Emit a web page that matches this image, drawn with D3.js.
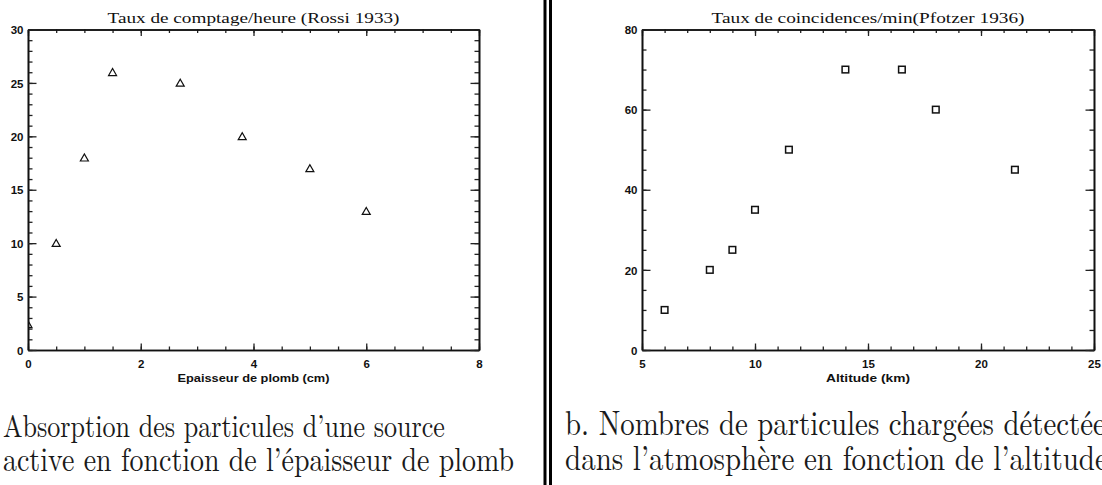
<!DOCTYPE html>
<html>
<head>
<meta charset="utf-8">
<script src="https://cdn.jsdelivr.net/npm/d3@7"></script>
<style>
  body { margin: 0; background: #fff; }
  svg { display: block; }
  .tick text { font-family: "Liberation Sans", Arial, sans-serif; font-weight: bold; font-size: 11.5px; fill: #111; }
</style>
</head>
<body>
<div id="chart"></div>
<script>
////////////////////////////////////////////////////////////////////////
// Data

// Rossi 1933: counts per hour vs lead thickness (cm)
const rossiThickness = [0, 0.5, 1, 1.5, 2.7, 3.8, 5, 6];
const rossiRate = [2.4, 10, 18, 26, 25, 20, 17, 13];
const rossiXTicks = [0, 2, 4, 6, 8];
const rossiYTicks = [0, 5, 10, 15, 20, 25, 30];

// Pfotzer 1936: coincidences per minute vs altitude (km)
const pfotzerAltitude = [6, 8, 9, 10, 11.5, 14, 16.5, 18, 21.5];
const pfotzerRate = [10, 20, 25, 35, 50, 70, 70, 60, 45];
const pfotzerXTicks = [5, 10, 15, 20, 25];
const pfotzerYTicks = [0, 20, 40, 60, 80];

const titles = ["Taux de comptage/heure (Rossi 1933)", "Taux de coincidences/min(Pfotzer 1936)"];
const xLabels = ["Epaisseur de plomb (cm)", "Altitude (km)"];

////////////////////////////////////////////////////////////////////////
// Layout

let width = 1102, height = 485;
let plotTop = 29.5, plotBottom = 350;

let svg = d3.select("#chart").append("svg")
  .attr("width", width)
  .attr("height", height);

svg.append("rect").attr("width", width).attr("height", height).attr("fill", "#fff");

// draws one framed IDL-style plot, returns the scales
function drawPlot(opt) {
  let x = d3.scaleLinear().domain(opt.xDomain).range([opt.left, opt.right]);
  let y = d3.scaleLinear().domain(opt.yDomain).range([plotBottom, plotTop]);
  let g = svg.append("g");

  let minorX = d3.range(opt.xDomain[0], opt.xDomain[1] + 1e-9, opt.xMinor);
  let minorY = d3.range(opt.yDomain[0], opt.yDomain[1] + 1e-9, opt.yMinor);

  // minor ticks first (no labels)
  g.append("g").attr("transform", "translate(0," + plotBottom + ")")
    .call(d3.axisTop(x).tickValues(minorX).tickSize(3.5).tickSizeOuter(0).tickFormat(""));
  g.append("g").attr("transform", "translate(0," + plotTop + ")")
    .call(d3.axisBottom(x).tickValues(minorX).tickSize(3.5).tickSizeOuter(0).tickFormat(""));
  g.append("g").attr("transform", "translate(" + opt.left + ",0)")
    .call(d3.axisRight(y).tickValues(minorY).tickSize(4.5).tickSizeOuter(0).tickFormat(""));
  g.append("g").attr("transform", "translate(" + opt.right + ",0)")
    .call(d3.axisLeft(y).tickValues(minorY).tickSize(4.5).tickSizeOuter(0).tickFormat(""));

  // major ticks, labels on bottom and left
  let xb = g.append("g").attr("class", "xaxis").attr("transform", "translate(0," + plotBottom + ")")
    .call(d3.axisTop(x).tickValues(opt.xTicks).tickSize(6.5).tickSizeOuter(0));
  xb.selectAll(".tick text").attr("y", 17.5).attr("dy", 0);

  g.append("g").attr("transform", "translate(0," + plotTop + ")")
    .call(d3.axisBottom(x).tickValues(opt.xTicks).tickSize(6.5).tickSizeOuter(0).tickFormat(""));

  let yl = g.append("g").attr("transform", "translate(" + opt.left + ",0)")
    .call(d3.axisRight(y).tickValues(opt.yTicks).tickSize(8.5).tickSizeOuter(0));
  yl.selectAll(".tick text").attr("x", -4.5).attr("dy", "0.36em").attr("text-anchor", "end");

  g.append("g").attr("transform", "translate(" + opt.right + ",0)")
    .call(d3.axisLeft(y).tickValues(opt.yTicks).tickSize(8.5).tickSizeOuter(0).tickFormat(""));

  g.selectAll(".domain").attr("stroke", "#111").attr("stroke-width", 1.6);
  g.selectAll(".tick line").attr("stroke", "#222").attr("stroke-width", 1.3);

  // title
  g.append("text")
    .attr("x", (opt.left + opt.right) / 2)
    .attr("y", 23)
    .attr("text-anchor", "middle")
    .attr("font-family", "'Liberation Serif', 'DejaVu Serif', serif")
    .attr("font-size", 15)
    .attr("textLength", opt.titleWidth)
    .attr("lengthAdjust", "spacingAndGlyphs")
    .attr("fill", "#111")
    .text(opt.title);

  // x label
  g.append("text")
    .attr("x", (opt.left + opt.right) / 2)
    .attr("y", 382)
    .attr("text-anchor", "middle")
    .attr("font-family", "'Liberation Sans', Arial, sans-serif")
    .attr("font-weight", "bold")
    .attr("font-size", 11)
    .attr("textLength", opt.xLabelWidth)
    .attr("lengthAdjust", "spacingAndGlyphs")
    .attr("fill", "#111")
    .text(opt.xLabel);

  // clip the markers to the plot frame
  svg.append("clipPath").attr("id", opt.id)
    .append("rect")
    .attr("x", opt.left).attr("y", plotTop)
    .attr("width", opt.right - opt.left).attr("height", plotBottom - plotTop);

  return { x: x, y: y, g: g.append("g").attr("clip-path", "url(#" + opt.id + ")") };
}

let plotA = drawPlot({
  id: "clipA", left: 28, right: 479,
  xDomain: [0, 8], yDomain: [0, 30], xMinor: 0.5, yMinor: 1,
  xTicks: rossiXTicks, yTicks: rossiYTicks,
  title: titles[0], titleWidth: 292,
  xLabel: xLabels[0], xLabelWidth: 152
});

let plotB = drawPlot({
  id: "clipB", left: 642, right: 1094,
  xDomain: [5, 25], yDomain: [0, 80], xMinor: 1, yMinor: 5,
  xTicks: pfotzerXTicks, yTicks: pfotzerYTicks,
  title: titles[1], titleWidth: 313,
  xLabel: xLabels[1], xLabelWidth: 84
});

// triangles (psym=5)
plotA.g.selectAll("path")
  .data(rossiThickness.map((d, i) => [d, rossiRate[i]]))
  .enter()
  .append("path")
  .attr("d", "M-4,3.3L4,3.3L0,-3.7Z")
  .attr("transform", d => "translate(" + plotA.x(d[0]) + "," + plotA.y(d[1]) + ")")
  .attr("fill", "none")
  .attr("stroke", "#111")
  .attr("stroke-width", 1.2);

// squares (psym=6)
plotB.g.selectAll("rect")
  .data(pfotzerAltitude.map((d, i) => [d, pfotzerRate[i]]))
  .enter()
  .append("rect")
  .attr("x", d => plotB.x(d[0]) - 3.3)
  .attr("y", d => plotB.y(d[1]) - 3.3)
  .attr("width", 6.6)
  .attr("height", 6.6)
  .attr("fill", "none")
  .attr("stroke", "#111")
  .attr("stroke-width", 1.5);

////////////////////////////////////////////////////////////////////////
// Double separator and the LaTeX captions

svg.selectAll("line.sep")
  .data([545, 550.5])
  .enter()
  .append("line")
  .attr("class", "sep")
  .attr("x1", d => d).attr("x2", d => d)
  .attr("y1", 0).attr("y2", height)
  .attr("stroke", "#000")
  .attr("stroke-width", 3);

// [text, x, baseline, chars to fit, target width]
const captions = [
  ["Absorption des particules d\u2019une source", 3, 437, 38, 442],
  ["active en fonction de l\u2019\u00e9paisseur de plomb", 3, 471, 42, 511],
  ["b. Nombres de particules charg\u00e9es d\u00e9tect\u00e9es", 565, 435, 41, 528],
  ["dans l\u2019atmosph\u00e8re en fonction de l\u2019altitude", 565, 470, 42, 530]
];

// the scan is a bit stretched vertically, so the glyphs are too
captions.forEach(function(c) {
  let t = svg.append("text")
    .attr("transform", "translate(" + c[1] + "," + c[2] + ") scale(1,1.2)")
    .attr("font-family", "'Latin Modern Roman', 'Liberation Serif', serif")
    .attr("font-size", 24)
    .attr("fill", "#1a1a1a")
    .text(c[0]);
  let w = t.node().getSubStringLength(0, Math.min(c[3], c[0].length));
  t.attr("font-size", 24 * c[4] / w);
});
</script>
</body>
</html>
